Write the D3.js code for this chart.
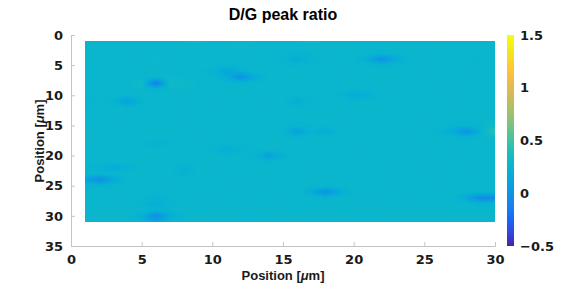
<!DOCTYPE html>
<html>
<head>
<meta charset="utf-8">
<script src="https://cdn.jsdelivr.net/npm/d3@7"></script>
<style>
  body { margin: 0; background: #fff; }
  svg { display: block; }
  .tick text { font-family: "DejaVu Sans", sans-serif; font-weight: bold; font-size: 13px; fill: #1a1a1a; }
  .lbl { font-family: "Liberation Sans", Arial, sans-serif; font-weight: bold; font-size: 13px; fill: #1a1a1a; }
</style>
</head>
<body>
<svg id="chart" width="576" height="285"></svg>
<script>
// D/G peak ratio map, rows are y = 1..31, columns x = 1..30
var xPos = d3.range(1, 31);
var yPos = d3.range(1, 32);
var ratio = [
  [.27,.26,.26,.27,.26,.25,.26,.27,.28,.27,.27,.27,.26,.26,.27,.27,.28,.27,.27,.26,.27,.27,.27,.26,.26,.27,.27,.26,.27,.27],
  [.27,.27,.26,.26,.27,.26,.27,.27,.27,.26,.27,.28,.27,.27,.26,.26,.27,.27,.27,.27,.26,.26,.27,.27,.27,.27,.26,.26,.27,.27],
  [.26,.27,.27,.27,.27,.27,.27,.26,.27,.27,.26,.27,.27,.27,.27,.24,.26,.27,.27,.27,.27,.25,.26,.27,.27,.26,.27,.27,.27,.26],
  [.27,.27,.26,.27,.27,.28,.27,.27,.26,.27,.27,.27,.27,.26,.25,.17,.24,.27,.27,.26,.18,-.03,.17,.26,.27,.27,.27,.26,.25,.27],
  [.27,.26,.27,.27,.27,.27,.27,.27,.27,.26,.24,.27,.27,.27,.26,.25,.27,.27,.27,.27,.26,.24,.26,.27,.27,.27,.27,.27,.26,.27],
  [.27,.27,.27,.26,.27,.27,.27,.26,.26,.24,.12,.20,.27,.27,.27,.27,.27,.26,.27,.27,.27,.27,.27,.26,.27,.27,.26,.27,.27,.27],
  [.26,.27,.27,.27,.26,.27,.28,.27,.27,.26,.20,-.02,.16,.26,.27,.27,.26,.27,.27,.27,.27,.27,.26,.27,.27,.26,.27,.27,.27,.26],
  [.27,.27,.27,.26,.32,-.15,.32,.30,.27,.27,.26,.25,.27,.27,.27,.26,.27,.27,.26,.27,.27,.27,.27,.27,.26,.27,.27,.27,.26,.27],
  [.27,.26,.27,.27,.27,.24,.27,.27,.27,.27,.27,.27,.27,.27,.26,.27,.27,.27,.27,.26,.25,.27,.27,.27,.27,.27,.27,.26,.27,.27],
  [.26,.27,.27,.25,.27,.27,.27,.27,.26,.27,.27,.27,.26,.27,.27,.26,.27,.27,.25,.16,.20,.27,.27,.26,.27,.27,.27,.27,.27,.26],
  [.23,.26,.24,.08,.24,.27,.27,.27,.27,.27,.27,.26,.27,.27,.26,.18,.25,.27,.27,.25,.27,.27,.26,.27,.27,.26,.27,.27,.26,.27],
  [.24,.27,.27,.25,.27,.27,.26,.27,.27,.27,.26,.27,.27,.27,.27,.26,.27,.26,.27,.27,.27,.27,.27,.27,.26,.27,.27,.27,.27,.27],
  [.27,.27,.27,.27,.26,.27,.27,.27,.26,.27,.27,.27,.27,.26,.27,.27,.27,.27,.27,.26,.27,.27,.26,.27,.27,.27,.26,.27,.27,.26],
  [.27,.26,.27,.27,.27,.27,.26,.27,.27,.27,.27,.26,.27,.27,.27,.27,.26,.27,.27,.27,.27,.26,.27,.27,.27,.27,.27,.26,.27,.27],
  [.26,.27,.27,.27,.26,.27,.27,.27,.27,.26,.27,.27,.27,.27,.26,.24,.26,.26,.27,.27,.27,.27,.27,.26,.27,.27,.25,.24,.27,.30],
  [.27,.27,.26,.27,.27,.27,.27,.26,.27,.27,.27,.27,.26,.27,.25,.08,.24,.17,.26,.27,.27,.26,.27,.27,.27,.24,.16,-.02,.22,.45],
  [.27,.27,.27,.26,.27,.27,.27,.27,.27,.26,.27,.27,.27,.27,.27,.25,.27,.27,.27,.26,.27,.27,.27,.27,.26,.27,.27,.23,.27,.29],
  [.27,.26,.27,.27,.27,.21,.26,.27,.27,.27,.27,.26,.27,.27,.27,.27,.27,.27,.26,.27,.27,.27,.26,.27,.27,.27,.27,.27,.27,.27],
  [.27,.27,.27,.27,.26,.27,.27,.27,.26,.25,.18,.24,.27,.27,.27,.27,.26,.27,.27,.27,.27,.27,.27,.27,.27,.26,.27,.27,.27,.26],
  [.26,.27,.26,.27,.27,.27,.27,.26,.27,.27,.26,.27,.23,.08,.22,.27,.27,.27,.26,.27,.27,.26,.27,.27,.27,.27,.27,.26,.27,.27],
  [.27,.27,.26,.27,.27,.27,.26,.27,.27,.27,.27,.27,.27,.25,.27,.27,.27,.26,.27,.27,.27,.27,.27,.26,.27,.27,.27,.27,.26,.27],
  [.25,.22,.15,.22,.27,.27,.27,.20,.26,.27,.27,.27,.26,.27,.27,.27,.27,.27,.27,.26,.27,.27,.27,.27,.27,.27,.26,.27,.27,.27],
  [.26,.26,.26,.27,.27,.26,.27,.21,.27,.27,.26,.27,.27,.27,.27,.26,.27,.27,.27,.27,.27,.26,.27,.27,.27,.27,.27,.27,.27,.27],
  [.12,-.05,.14,.27,.27,.27,.27,.27,.27,.26,.27,.27,.27,.27,.26,.27,.27,.27,.26,.27,.27,.27,.27,.26,.27,.27,.27,.27,.26,.27],
  [.25,.24,.26,.27,.26,.27,.27,.27,.26,.27,.27,.27,.27,.27,.27,.27,.27,.27,.27,.27,.26,.27,.27,.27,.27,.27,.26,.27,.27,.27],
  [.27,.27,.27,.27,.27,.25,.27,.27,.27,.27,.27,.26,.27,.27,.27,.27,.16,-.02,.16,.27,.27,.27,.27,.27,.26,.27,.27,.27,.27,.27],
  [.27,.26,.27,.27,.26,.22,.26,.27,.27,.27,.27,.27,.27,.26,.27,.27,.27,.24,.27,.27,.27,.27,.26,.27,.27,.27,.27,.14,-.08,-.05],
  [.27,.27,.27,.27,.24,.18,.24,.27,.27,.27,.26,.27,.27,.27,.27,.27,.26,.27,.27,.27,.27,.27,.27,.27,.27,.26,.27,.27,.24,.24],
  [.26,.27,.27,.27,.27,.24,.27,.27,.26,.27,.27,.27,.27,.27,.27,.26,.27,.27,.26,.27,.27,.27,.27,.27,.27,.27,.27,.26,.27,.27],
  [.27,.27,.27,.27,.20,-.05,.18,.27,.27,.27,.27,.27,.26,.27,.27,.27,.27,.27,.27,.27,.26,.27,.27,.27,.27,.27,.27,.27,.27,.27],
  [.27,.27,.26,.27,.24,.12,.25,.27,.27,.27,.27,.26,.27,.27,.27,.27,.27,.26,.27,.27,.27,.27,.27,.26,.27,.27,.27,.27,.27,.27]
];
var xTicks = [0, 5, 10, 15, 20, 25, 30];
var yTicks = [0, 5, 10, 15, 20, 25, 30, 35];
var cTicks = [-0.5, 0, 0.5, 1, 1.5];

// parula-like colormap stops (newer, brighter variant)
var parula = [
  [0.2422,0.1504,0.6603],[0.2150,0.2700,0.8600],[0.1000,0.4000,0.9600],
  [0.1000,0.5000,0.9400],[0.0600,0.5800,0.8900],[0.0300,0.6500,0.8600],
  [0.0300,0.7100,0.8100],[0.1000,0.7400,0.7400],[0.2600,0.7600,0.6400],
  [0.4420,0.7600,0.5300],[0.6100,0.7550,0.4400],[0.7525,0.7450,0.3768],
  [0.8824,0.7300,0.3217],[0.9938,0.7455,0.2403],[0.9789,0.8271,0.1633],
  [0.9598,0.9218,0.0948],[0.9763,0.9831,0.0538]
].map(function (c) { return d3.rgb(c[0] * 255, c[1] * 255, c[2] * 255).formatHex(); });

var svg = d3.select('#chart');
var mLeft = 71, mRight = 495, mTop = 35, mBottom = 246;

var xScale = d3.scaleLinear().domain([0, 30]).range([mLeft, mRight]);
var yScale = d3.scaleLinear().domain([0, 35]).range([mTop, mBottom]);
var color = d3.scaleSequential(d3.piecewise(d3.interpolateRgb, parula)).domain([-0.5, 1.5]).clamp(true);

function drawHeatmap() {
  var x0 = Math.round(xScale(xPos[0])), x1 = Math.round(xScale(xPos[xPos.length - 1]));
  var y0 = Math.round(yScale(yPos[0])), y1 = Math.round(yScale(yPos[yPos.length - 1]));
  var w = x1 - x0, h = y1 - y0;
  var canvas = document.createElement('canvas');
  canvas.width = w; canvas.height = h;
  var ctx = canvas.getContext('2d');
  var img = ctx.createImageData(w, h);
  for (var j = 0; j < h; j++) {
    var gy = yScale.invert(y0 + j + 0.5) - yPos[0];
    gy = Math.max(0, Math.min(yPos.length - 1, gy));
    var r0 = Math.floor(gy), r1 = Math.min(r0 + 1, yPos.length - 1), fy = gy - r0;
    for (var i = 0; i < w; i++) {
      var gx = xScale.invert(x0 + i + 0.5) - xPos[0];
      gx = Math.max(0, Math.min(xPos.length - 1, gx));
      var c0 = Math.floor(gx), c1 = Math.min(c0 + 1, xPos.length - 1), fx = gx - c0;
      var v = (ratio[r0][c0] * (1 - fx) + ratio[r0][c1] * fx) * (1 - fy) +
              (ratio[r1][c0] * (1 - fx) + ratio[r1][c1] * fx) * fy;
      var c = d3.rgb(color(v));
      var k = (j * w + i) * 4;
      img.data[k] = c.r; img.data[k + 1] = c.g; img.data[k + 2] = c.b; img.data[k + 3] = 255;
    }
  }
  ctx.putImageData(img, 0, 0);
  svg.append('image')
    .attr('x', x0).attr('y', y0)
    .attr('width', w).attr('height', h)
    .attr('preserveAspectRatio', 'none')
    .attr('href', canvas.toDataURL());
}

function drawAxes() {
  var gx = svg.append('g')
    .attr('class', 'axis')
    .attr('transform', 'translate(0,' + mBottom + ')')
    .call(d3.axisBottom(xScale).tickValues(xTicks).tickSize(-4).tickPadding(8));
  gx.selectAll('.tick text').attr('dy', '0.75em');

  svg.append('g')
    .attr('class', 'axis')
    .attr('transform', 'translate(' + mLeft + ',0)')
    .call(d3.axisLeft(yScale).tickValues(yTicks).tickSize(-4).tickPadding(8));

  svg.selectAll('.axis path.domain').attr('stroke', '#c4c4c4');
  svg.selectAll('.axis .tick line').attr('stroke', '#c4c4c4');
}

function drawColorbar() {
  var cx = 507, cw = 7;
  var cScale = d3.scaleLinear().domain([-0.5, 1.5]).range([mBottom, mTop]);
  var grad = svg.append('defs').append('linearGradient')
    .attr('id', 'cbar').attr('x1', 0).attr('y1', 1).attr('x2', 0).attr('y2', 0);
  grad.selectAll('stop').data(d3.range(0, 1.0001, 0.02)).enter().append('stop')
    .attr('offset', function (t) { return t; })
    .attr('stop-color', function (t) { return color(-0.5 + 2 * t); });
  svg.append('rect')
    .attr('x', cx).attr('y', mTop)
    .attr('width', cw).attr('height', mBottom - mTop)
    .attr('fill', 'url(#cbar)');
  var ax = svg.append('g')
    .attr('class', 'axis cb')
    .attr('transform', 'translate(' + (cx + cw) + ',0)')
    .call(d3.axisRight(cScale).tickValues(cTicks).tickSize(0).tickPadding(6)
      .tickFormat(function (d) { return d3.format('')(d); }));
  ax.select('.domain').remove();
}

function drawLabels() {
  svg.append('text')
    .attr('x', 283).attr('y', 20)
    .attr('text-anchor', 'middle')
    .style('font-family', '"Liberation Sans", Arial, sans-serif')
    .style('font-weight', 'bold').style('font-size', '16px').style('fill', '#000')
    .text('D/G peak ratio');

  var xl = svg.append('text').attr('class', 'lbl')
    .attr('x', 283).attr('y', 280).attr('text-anchor', 'middle');
  xl.append('tspan').text('Position [');
  xl.append('tspan').style('font-style', 'italic').text('\u03bc');
  xl.append('tspan').text('m]');

  var yl = svg.append('text').attr('class', 'lbl')
    .attr('transform', 'translate(44,141) rotate(-90)').attr('text-anchor', 'middle');
  yl.append('tspan').text('Position [');
  yl.append('tspan').style('font-style', 'italic').text('\u03bc');
  yl.append('tspan').text('m]');
}

drawHeatmap();
drawAxes();
drawColorbar();
drawLabels();
</script>
</body>
</html>
